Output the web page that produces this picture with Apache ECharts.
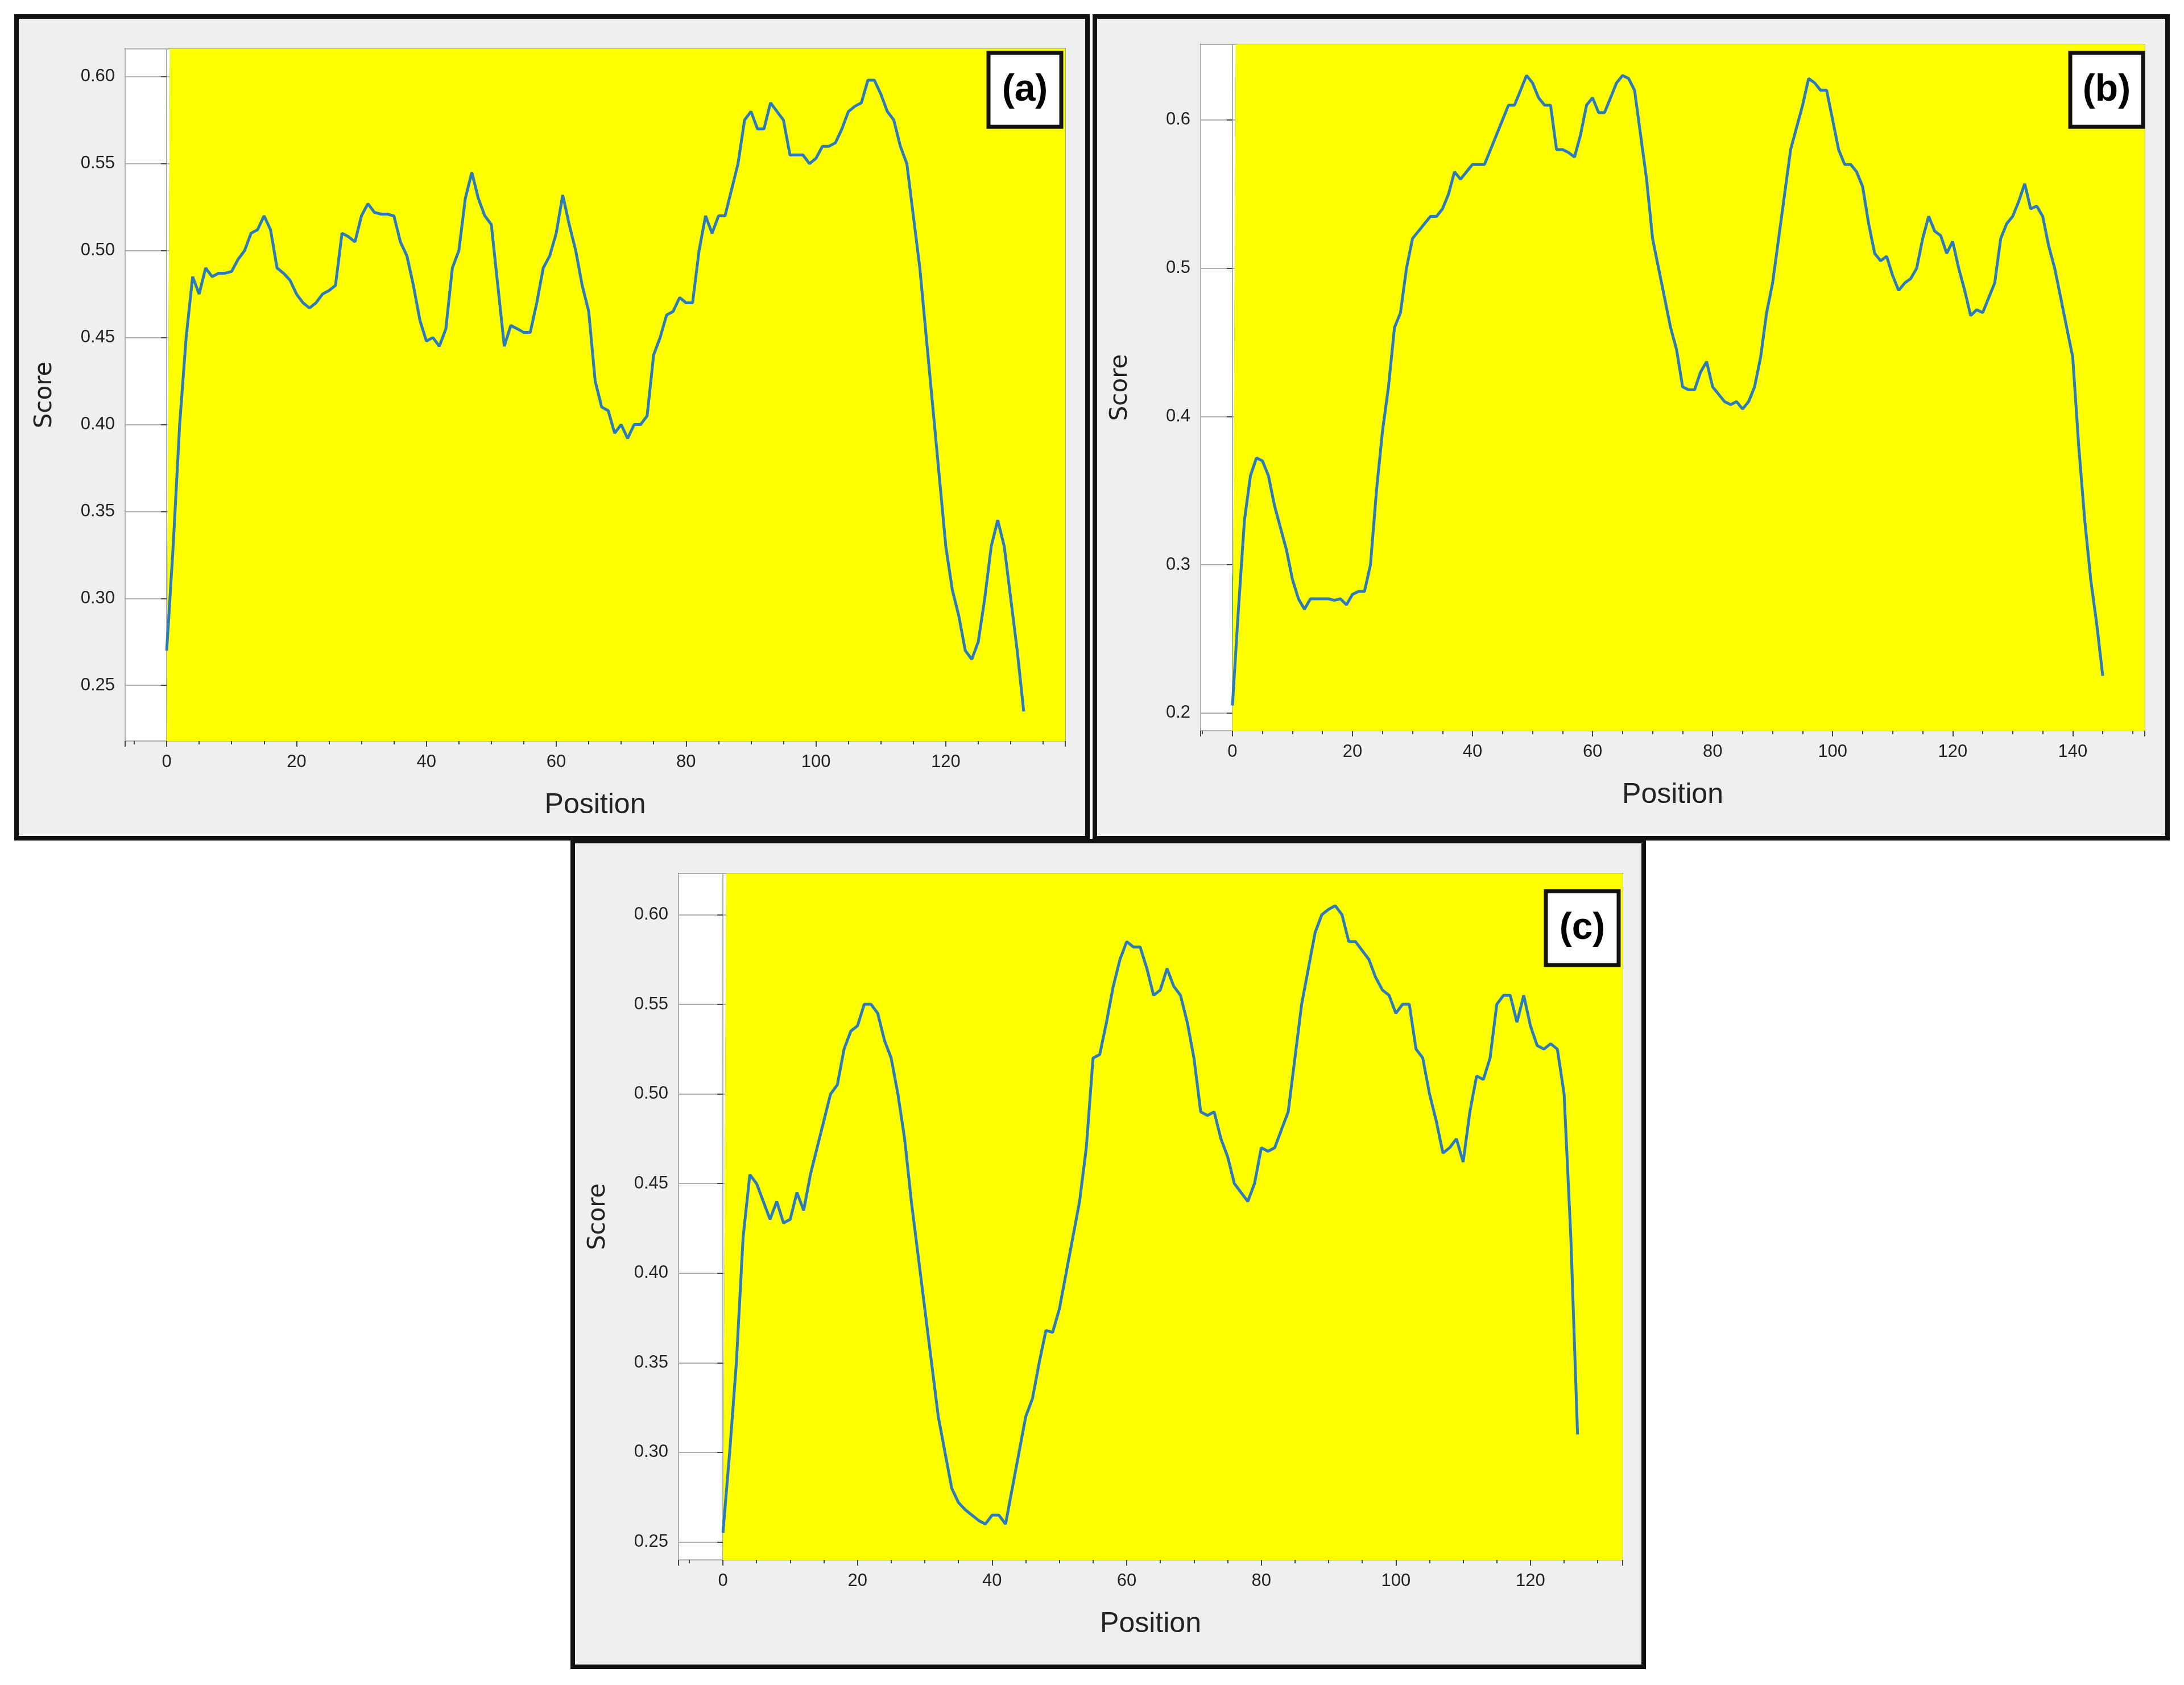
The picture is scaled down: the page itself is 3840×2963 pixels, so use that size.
<!DOCTYPE html>
<html><head><meta charset="utf-8">
<script src="https://cdn.jsdelivr.net/npm/echarts@6/dist/echarts.min.js"></script>
<style>html,body{margin:0;padding:0;background:#fff}#c{width:3840px;height:2963px}</style>
</head><body><div id="c"></div>
<script>
const scoresA=[0.27,0.33,0.40,0.45,0.485,0.475,0.49,0.485,0.487,0.487,0.488,0.495,0.50,0.51,0.512,0.52,0.512,0.49,0.487,0.483,0.475,0.47,0.467,0.47,0.475,0.477,0.48,0.51,0.508,0.505,0.52,0.527,0.522,0.521,0.521,0.52,0.505,0.497,0.48,0.46,0.448,0.45,0.445,0.455,0.49,0.50,0.53,0.545,0.53,0.52,0.515,0.48,0.445,0.457,0.455,0.453,0.453,0.47,0.49,0.497,0.51,0.532,0.515,0.50,0.48,0.465,0.425,0.41,0.408,0.395,0.40,0.392,0.40,0.40,0.405,0.44,0.45,0.463,0.465,0.473,0.47,0.47,0.50,0.52,0.51,0.52,0.52,0.535,0.55,0.575,0.58,0.57,0.57,0.585,0.58,0.575,0.555,0.555,0.555,0.55,0.553,0.56,0.56,0.562,0.57,0.58,0.583,0.585,0.598,0.598,0.59,0.58,0.575,0.56,0.55,0.52,0.49,0.45,0.41,0.37,0.33,0.305,0.29,0.27,0.265,0.275,0.30,0.33,0.345,0.33,0.30,0.27,0.235];
const scoresB=[0.205,0.27,0.33,0.36,0.372,0.37,0.36,0.34,0.325,0.31,0.29,0.277,0.27,0.277,0.277,0.277,0.277,0.276,0.277,0.273,0.28,0.282,0.282,0.30,0.35,0.39,0.42,0.46,0.47,0.50,0.52,0.525,0.53,0.535,0.535,0.54,0.55,0.565,0.56,0.565,0.57,0.57,0.57,0.58,0.59,0.60,0.61,0.61,0.62,0.63,0.625,0.615,0.61,0.61,0.58,0.58,0.578,0.575,0.59,0.61,0.615,0.605,0.605,0.615,0.625,0.63,0.628,0.62,0.59,0.56,0.52,0.50,0.48,0.46,0.445,0.42,0.418,0.418,0.43,0.437,0.42,0.415,0.41,0.408,0.41,0.405,0.41,0.42,0.44,0.47,0.49,0.52,0.55,0.58,0.595,0.61,0.628,0.625,0.62,0.62,0.60,0.58,0.57,0.57,0.565,0.555,0.53,0.51,0.505,0.508,0.495,0.485,0.49,0.493,0.50,0.52,0.535,0.525,0.522,0.51,0.518,0.50,0.485,0.468,0.472,0.47,0.48,0.49,0.52,0.53,0.535,0.545,0.557,0.54,0.542,0.535,0.515,0.50,0.48,0.46,0.44,0.38,0.33,0.29,0.26,0.225];
const scoresC=[0.255,0.30,0.35,0.42,0.455,0.45,0.44,0.43,0.44,0.428,0.43,0.445,0.435,0.455,0.47,0.485,0.50,0.505,0.525,0.535,0.538,0.55,0.55,0.545,0.53,0.52,0.50,0.475,0.44,0.41,0.38,0.35,0.32,0.30,0.28,0.272,0.268,0.265,0.262,0.26,0.265,0.265,0.26,0.28,0.30,0.32,0.33,0.35,0.368,0.367,0.38,0.40,0.42,0.44,0.47,0.52,0.522,0.54,0.56,0.575,0.585,0.582,0.582,0.57,0.555,0.558,0.57,0.56,0.555,0.54,0.52,0.49,0.488,0.49,0.475,0.465,0.45,0.445,0.44,0.45,0.47,0.468,0.47,0.48,0.49,0.52,0.55,0.57,0.59,0.60,0.603,0.605,0.60,0.585,0.585,0.58,0.575,0.565,0.558,0.555,0.545,0.55,0.55,0.525,0.52,0.50,0.485,0.467,0.47,0.475,0.462,0.49,0.51,0.508,0.52,0.55,0.555,0.555,0.54,0.555,0.538,0.527,0.525,0.528,0.525,0.50,0.42,0.31];
const labels=['(a)','(b)','(c)'];
const threshold=0.5;

const panels=[
 {data:scoresA,box:[29,29,1883,1445],grid:[220,86,1653,1217],x:[-6.4,138.4],y:[0.218,0.616],ys:8,lab:[1738,93]},
 {data:scoresB,box:[1925,29,1886,1445],grid:[2111,78,1660,1207],x:[-5.3,152],y:[0.188,0.651],ys:5,lab:[3640,93]},
 {data:scoresC,box:[1007,1479,1883,1452],grid:[1193,1536,1660,1207],x:[-6.6,133.7],y:[0.240,0.623],ys:8,lab:[2718,1567]}
];
const grids=[],xs=[],ysA=[],series=[],graphic=[];
panels.forEach((p,i)=>{
  graphic.push({type:'rect',z:-10,shape:{x:p.box[0],y:p.box[1],width:p.box[2],height:p.box[3]},style:{fill:'#efefef',stroke:'#111',lineWidth:8}});
  graphic.push({type:'rect',z:100,shape:{x:p.lab[0],y:p.lab[1],width:128,height:130},style:{fill:'#fff',stroke:'#111',lineWidth:7}});
  graphic.push({type:'text',z:101,x:p.lab[0]+64,y:p.lab[1]+66,style:{text:labels[i],font:'bold 66px "Liberation Sans", Arial',fill:'#000',align:'center',verticalAlign:'middle'}});
  grids.push({left:p.grid[0],top:p.grid[1],width:p.grid[2],height:p.grid[3],show:true,backgroundColor:'#fff',borderColor:'#444',borderWidth:2});
  xs.push({type:'value',gridIndex:i,min:p.x[0],max:p.x[1],splitNumber:8,name:'Position',nameLocation:'middle',nameGap:88,
    nameTextStyle:{fontSize:50,color:'#222',fontFamily:'Liberation Sans'},
    axisLine:{show:false},axisTick:{show:true,length:10,lineStyle:{color:'#444',width:2}},
    minorTick:{show:true,splitNumber:4,length:6,lineStyle:{color:'#444',width:2}},
    axisLabel:{fontSize:31,color:'#222',margin:22,showMinLabel:false,showMaxLabel:false,formatter:v=>Math.abs(v%20)<1e-6?v:''},
    splitLine:{show:true,lineStyle:{color:'#b0b0b0',width:2}}});
  ysA.push({type:'value',gridIndex:i,min:p.y[0],max:p.y[1],splitNumber:p.ys,name:'Score',nameLocation:'middle',nameGap:120,
    nameTextStyle:{fontSize:42,color:'#222',fontFamily:'DejaVu Sans'},
    axisLine:{show:false},axisTick:{show:true,length:10,lineStyle:{color:'#444',width:2}},
    axisLabel:{fontSize:31,color:'#222',margin:18,showMinLabel:false,showMaxLabel:false,
      formatter:v=>i===1?v.toFixed(1):v.toFixed(2)},
    splitLine:{show:true,lineStyle:{color:'#b0b0b0',width:2}}});
  const low=p.data.map((v,k)=>[k,Math.min(v,threshold)]);
  const gH=p.data.map((v,k)=>[k,threshold-Math.min(v,threshold)]);
  const base=p.data.map((v,k)=>[k,threshold]);
  const yH=p.data.map((v,k)=>[k,Math.max(v,threshold)-threshold]);
  const common={type:'line',xAxisIndex:i,yAxisIndex:i,symbol:'none',silent:true};
  series.push(Object.assign({},common,{data:low,stack:'g'+i,lineStyle:{width:0},z:1}));
  series.push(Object.assign({},common,{data:gH,stack:'g'+i,lineStyle:{width:0},areaStyle:{color:'#00cc00',opacity:1},z:1}));
  series.push(Object.assign({},common,{data:base,stack:'y'+i,lineStyle:{width:0},z:1}));
  series.push(Object.assign({},common,{data:yH,stack:'y'+i,lineStyle:{width:0},areaStyle:{color:'#ffff00',opacity:1},z:1}));
  series.push(Object.assign({},common,{data:p.data.map((v,k)=>[k,v]),z:3,lineStyle:{width:5,color:'#2b7bba'}}));
});
const chart=echarts.init(document.getElementById('c'));
chart.setOption({animation:false,backgroundColor:'#fff',grid:grids,xAxis:xs,yAxis:ysA,series:series,graphic:graphic});
</script></body></html>
